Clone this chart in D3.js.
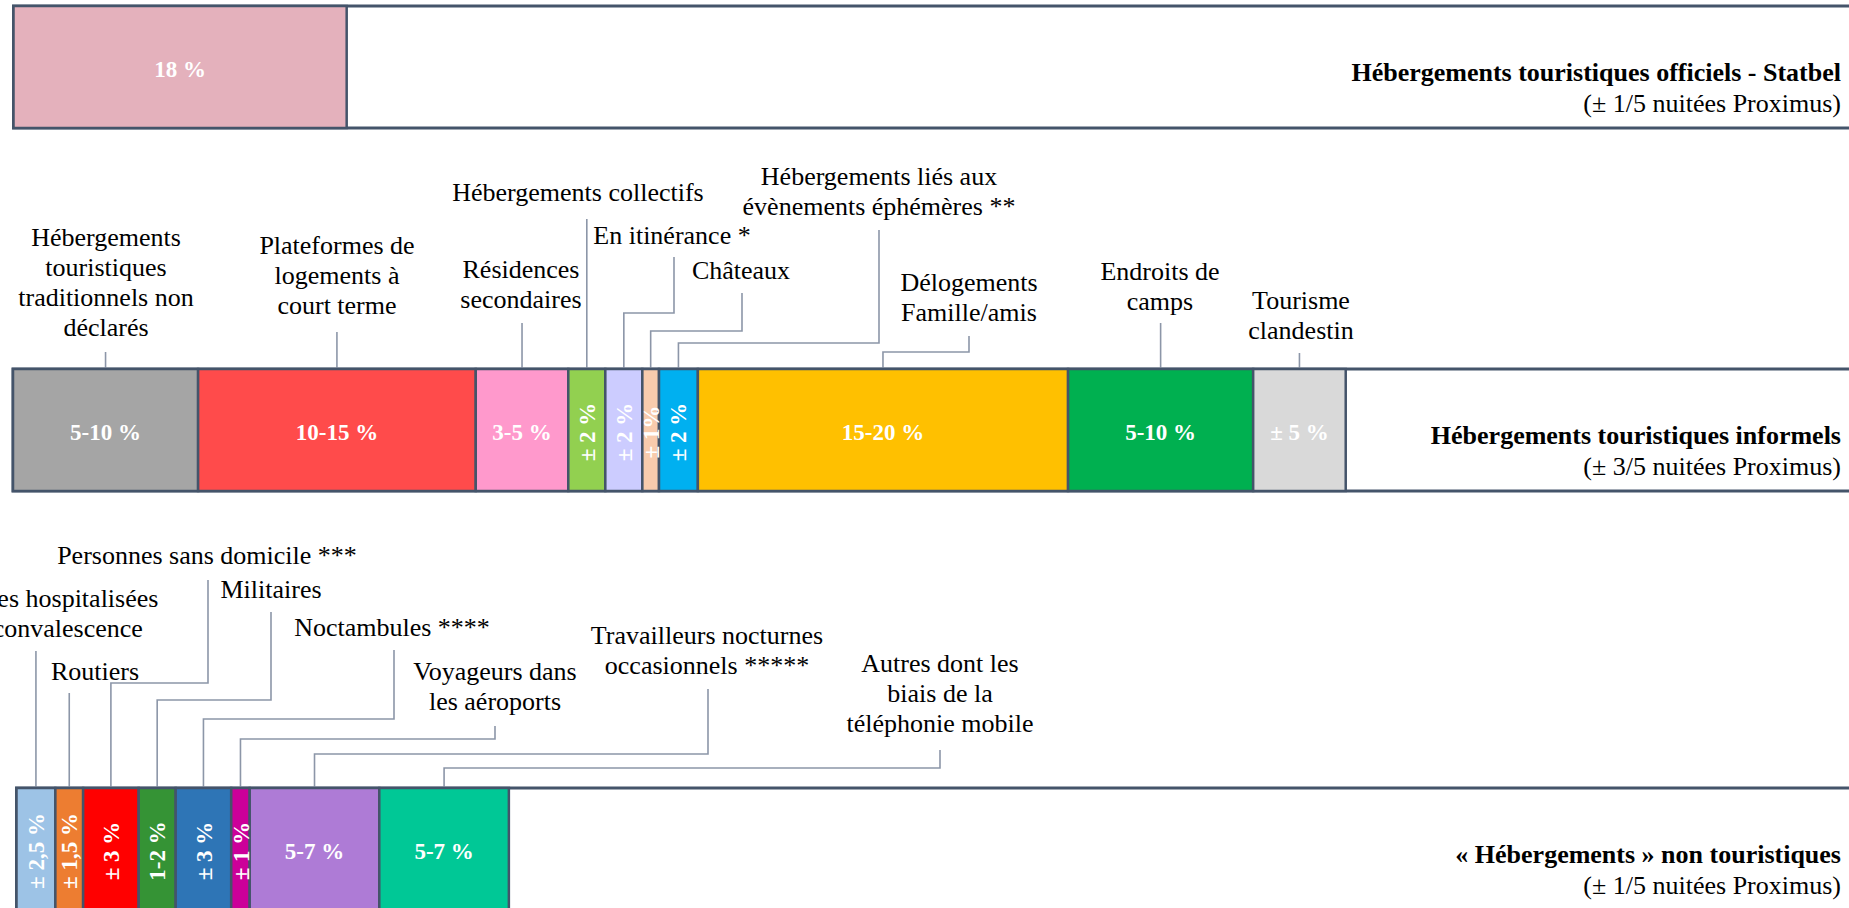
<!DOCTYPE html>
<html lang="fr">
<head>
<meta charset="utf-8">
<script src="https://cdn.jsdelivr.net/npm/d3@7"></script>
<style>
  html, body { margin: 0; padding: 0; background: #fff; overflow: hidden; }
  svg { display: block; font-family: "Liberation Serif", "Times New Roman", serif; }
</style>
</head>
<body>
<div id="chart"></div>
<script>
// ---- donnees ----
const rowTitles = [
  "Hébergements touristiques officiels - Statbel",
  "Hébergements touristiques informels",
  "« Hébergements » non touristiques"
];
const rowSubtitles = [
  "(± 1/5 nuitées Proximus)",
  "(± 3/5 nuitées Proximus)",
  "(± 1/5 nuitées Proximus)"
];

const officielCats = [""];
const officielShares = [18];
const officielTexts = ["18 %"];

const informelCats = [
  "Hébergements\ntouristiques\ntraditionnels non\ndéclarés",
  "Plateformes de\nlogements à\ncourt terme",
  "Résidences\nsecondaires",
  "Hébergements collectifs",
  "En itinérance *",
  "Châteaux",
  "Hébergements liés aux\névènements éphémères **",
  "Délogements\nFamille/amis",
  "Endroits de\ncamps",
  "Tourisme\nclandestin"
];
const informelShares = [10, 15, 5, 2, 2, 0.9, 2.1, 20, 10, 5];
const informelTexts = ["5-10 %", "10-15 %", "3-5 %", "± 2 %", "± 2 %", "± 1%", "± 2 %", "15-20 %", "5-10 %", "± 5 %"];

const nonTourCats = [
  "Personnes hospitalisées\nou en convalescence",
  "Routiers",
  "Personnes sans domicile ***",
  "Militaires",
  "Noctambules ****",
  "Voyageurs dans\nles aéroports",
  "Travailleurs nocturnes\noccasionnels *****",
  "Autres dont les\nbiais de la\ntéléphonie mobile"
];
const nonTourShares = [2.1, 1.5, 3, 2, 3, 1, 7, 7];
const nonTourTexts = ["± 2,5 %", "± 1,5 %", "± 3 %", "1-2 %", "± 3 %", "± 1 %", "5-7 %", "5-7 %"];

// ---- styles ----
const officielColors = ["#e4b1bc"];
const informelColors = ["#a5a5a5", "#ff4b4b", "#ff99cc", "#92d050", "#ccccff", "#f8cbad", "#00b0f0", "#ffc000", "#00b050", "#d9d9d9"];
const nonTourColors = ["#9dc3e6", "#ed7d31", "#ff0000", "#359335", "#2e75b6", "#cc0099", "#ae7bd6", "#00c896"];

// placement des etiquettes (px)
const informelPos = [
  {x: 106, y: 237, top: 352},
  {x: 337, y: 245, top: 332},
  {x: 521, y: 269, top: 323},
  {x: 578, y: 192, top: 219},
  {x: 672, y: 235, lx: 674, top: 257, elbow: 313},
  {x: 741, y: 270, lx: 742, top: 293, elbow: 331},
  {x: 879, y: 176, top: 230, elbow: 343},
  {x: 969, y: 282, top: 336, elbow: 352},
  {x: 1160, y: 271, top: 323},
  {x: 1301, y: 300, top: 353}
];
const nonTourPos = [
  {x: 36, y: 598, top: 651},
  {x: 95, y: 671, top: 693},
  {x: 207, y: 555, lx: 208, top: 580, elbow: 683},
  {x: 271, y: 589, top: 612, elbow: 700},
  {x: 392, y: 627, lx: 394, top: 650, elbow: 719},
  {x: 495, y: 671, top: 726, elbow: 739},
  {x: 707, y: 635, lx: 708, top: 689, elbow: 754},
  {x: 940, y: 663, top: 750, elbow: 768}
];

const W = 1849, H = 908;
const border = "#44546a";
const leaderColor = "#8c96a8";
const barH = 122;

const x = d3.scaleLinear().domain([0, 100]).range([0, 1851]);

const svg = d3.select("#chart").append("svg")
    .attr("width", W)
    .attr("height", H);

const rows = [
  {x0: 13.5, top: 6, cats: officielCats, shares: officielShares, texts: officielTexts, colors: officielColors, pos: []},
  {x0: 13, top: 369, cats: informelCats, shares: informelShares, texts: informelTexts, colors: informelColors, pos: informelPos},
  {x0: 16.5, top: 788, cats: nonTourCats, shares: nonTourShares, texts: nonTourTexts, colors: nonTourColors, pos: nonTourPos}
];

rows.forEach(function(row, r) {
  const g = svg.append("g");

  // cumul
  let acc = 0;
  const segs = row.shares.map((v, i) => {
    const s = {i: i, start: acc, end: acc + v, v: v};
    acc += v;
    return s;
  });
  const sx = d => row.x0 + x(d);

  // cadre
  g.append("rect")
    .attr("x", row.x0)
    .attr("y", row.top)
    .attr("width", W + 40 - row.x0)
    .attr("height", barH)
    .attr("fill", "#fff")
    .attr("stroke", border)
    .attr("stroke-width", 3);

  // leaders
  row.pos.forEach(function(p, i) {
    const s = segs[i];
    const cx = sx((s.start + s.end) / 2);
    let d;
    if (p.elbow) {
      const lx = p.lx || p.x;
      d = `M${lx},${p.top} V${p.elbow} H${cx} V${row.top}`;
    } else {
      d = `M${cx},${p.top} V${row.top}`;
    }
    g.append("path")
      .attr("d", d)
      .attr("fill", "none")
      .attr("stroke", leaderColor)
      .attr("stroke-width", 1.6);
  });

  // segments
  g.selectAll("rect.seg")
    .data(segs)
    .enter().append("rect")
    .attr("class", "seg")
    .attr("x", d => sx(d.start))
    .attr("y", row.top)
    .attr("width", d => x(d.v))
    .attr("height", barH)
    .attr("fill", d => row.colors[d.i])
    .attr("stroke", border)
    .attr("stroke-width", 2.5);

  // valeurs
  g.selectAll("text.val")
    .data(segs)
    .enter().append("text")
    .attr("class", "val")
    .attr("transform", d => {
      const cx = sx((d.start + d.end) / 2), cy = row.top + 63;
      return x(d.v) < 60 ? `translate(${cx},${cy}) rotate(-90)` : `translate(${cx},${cy})`;
    })
    .attr("dy", "0.35em")
    .attr("text-anchor", "middle")
    .attr("fill", "#fff")
    .attr("font-weight", "bold")
    .attr("font-size", 23)
    .text(d => row.texts[d.i]);

  // etiquettes
  row.pos.forEach(function(p, i) {
    const t = g.append("text")
      .attr("text-anchor", "middle")
      .attr("font-size", 26)
      .attr("fill", "#000");
    row.cats[i].split("\n").forEach(function(line, k) {
      t.append("tspan")
        .attr("x", p.x)
        .attr("y", p.y + k * 30)
        .attr("dy", "0.35em")
        .text(line);
    });
  });

  // titres a droite
  g.append("text")
    .attr("x", 1841)
    .attr("y", row.top + 66)
    .attr("dy", "0.35em")
    .attr("text-anchor", "end")
    .attr("font-weight", "bold")
    .attr("font-size", 26)
    .text(rowTitles[r]);
  g.append("text")
    .attr("x", 1841)
    .attr("y", row.top + 97)
    .attr("dy", "0.35em")
    .attr("text-anchor", "end")
    .attr("font-size", 26)
    .text(rowSubtitles[r]);
});
</script>
</body>
</html>
